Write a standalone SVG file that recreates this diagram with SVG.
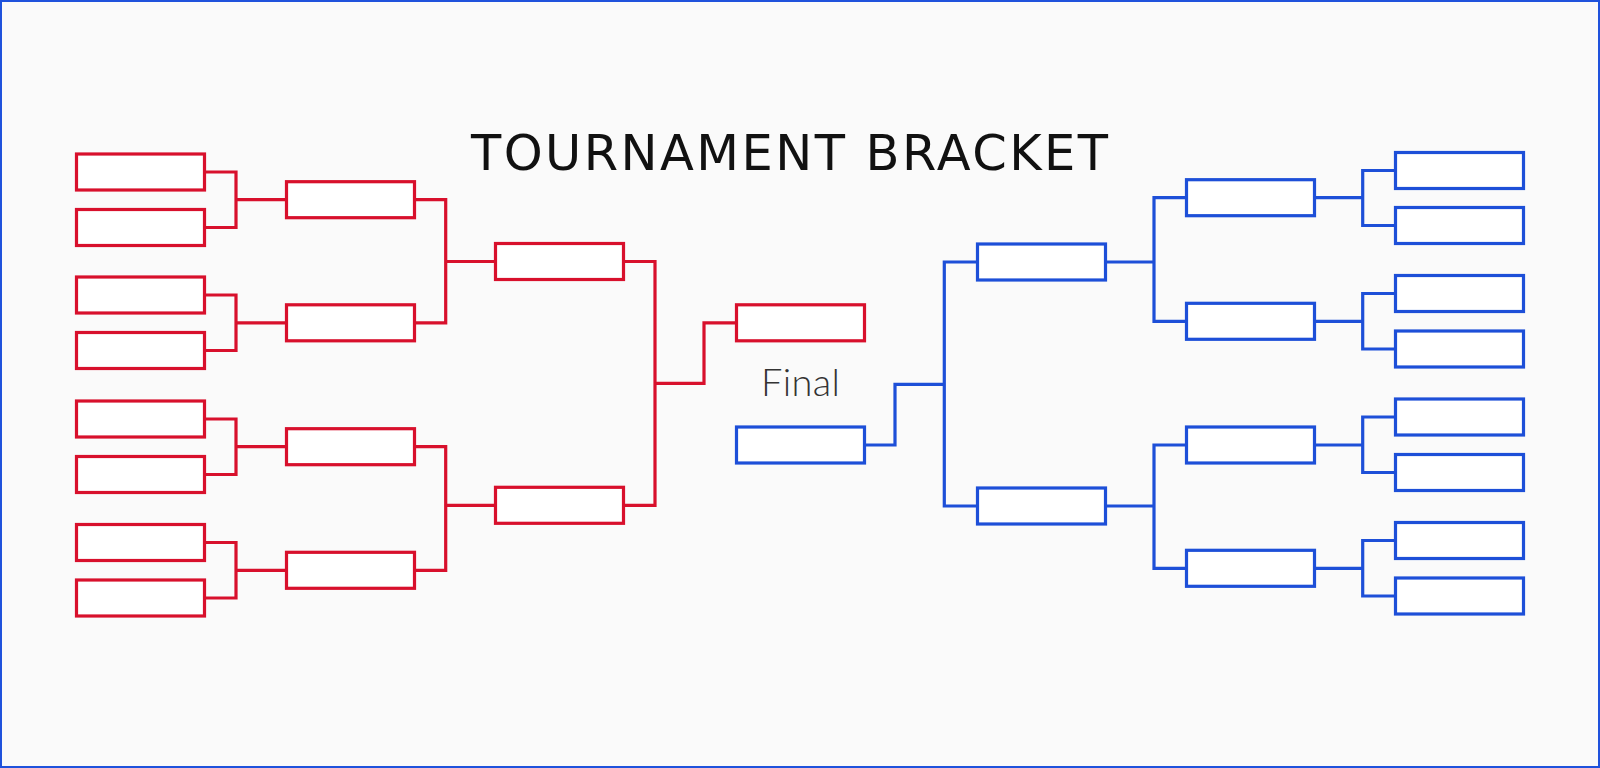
<svg xmlns="http://www.w3.org/2000/svg" width="1600" height="768" viewBox="0 0 1600 768">
  <style>
    .r { fill: #ffffff; stroke: #d8102c; stroke-width: 3.2; }
    .b { fill: #ffffff; stroke: #1d4fd8; stroke-width: 3.2; }
    .cr { fill: none; stroke: #d8102c; stroke-width: 3.2; stroke-linejoin: miter; }
    .cb { fill: none; stroke: #1d4fd8; stroke-width: 3.2; stroke-linejoin: miter; }
    .title { font-family: "DejaVu Sans", "Noto Sans", "Liberation Sans", sans-serif; font-size: 49.5px; fill: #111111; }
    .final { font-family: Lato, "Noto Sans", "Liberation Sans", sans-serif; font-weight: 300; font-size: 38px; fill: #333333; }
  </style>
  <rect x="1" y="1" width="1598" height="766" fill="#fafafa" stroke="#1f52dc" stroke-width="2"/>
  <text class="title" x="471" y="170" textLength="637">TOURNAMENT BRACKET</text>
  <text class="final" x="761" y="396" textLength="79">Final</text>

  <g id="connectors">
    <!-- red round 1 -> round 2 -->
    <path class="cr" d="M204.5 172 H236 V227.5 H204.5 M236 199.7 H286.5"/>
    <path class="cr" d="M204.5 295 H236 V350.5 H204.5 M236 322.8 H286.5"/>
    <path class="cr" d="M204.5 419 H236 V474.5 H204.5 M236 446.7 H286.5"/>
    <path class="cr" d="M204.5 542.5 H236 V598 H204.5 M236 570.3 H286.5"/>
    <!-- red round 2 -> semi -->
    <path class="cr" d="M414.5 199.7 H445.7 V322.8 H414.5 M445.7 261.5 H495.5"/>
    <path class="cr" d="M414.5 446.7 H445.7 V570.3 H414.5 M445.7 505.3 H495.5"/>
    <!-- red semi -> final -->
    <path class="cr" d="M623.5 261.5 H655 V505.3 H623.5 M655 383.3 H704 V322.8 H736.5"/>
    <!-- blue final -> semi -->
    <path class="cb" d="M864.5 445 H895 V384.3 H944.3 M977.5 262 H944.3 V506 H977.5"/>
    <!-- blue semi -> round 2 -->
    <path class="cb" d="M1105.5 262 H1154 M1186.5 197.7 H1154 V321.3 H1186.5"/>
    <path class="cb" d="M1105.5 506 H1154 M1186.5 445 H1154 V568.3 H1186.5"/>
    <!-- blue round 2 -> round 1 -->
    <path class="cb" d="M1314.5 197.7 H1362.7 M1395.5 170.5 H1362.7 V225.5 H1395.5"/>
    <path class="cb" d="M1314.5 321.3 H1362.7 M1395.5 293.5 H1362.7 V349 H1395.5"/>
    <path class="cb" d="M1314.5 445 H1362.7 M1395.5 417 H1362.7 V472.5 H1395.5"/>
    <path class="cb" d="M1314.5 568.3 H1362.7 M1395.5 540.5 H1362.7 V596 H1395.5"/>
  </g>

  <!-- red round 1 -->
  <g id="red-r1-1"><rect class="r" x="76.5" y="154" width="128" height="36"/></g>
  <g id="red-r1-2"><rect class="r" x="76.5" y="209.5" width="128" height="36"/></g>
  <g id="red-r1-3"><rect class="r" x="76.5" y="277" width="128" height="36"/></g>
  <g id="red-r1-4"><rect class="r" x="76.5" y="332.5" width="128" height="36"/></g>
  <g id="red-r1-5"><rect class="r" x="76.5" y="401" width="128" height="36"/></g>
  <g id="red-r1-6"><rect class="r" x="76.5" y="456.5" width="128" height="36"/></g>
  <g id="red-r1-7"><rect class="r" x="76.5" y="524.5" width="128" height="36"/></g>
  <g id="red-r1-8"><rect class="r" x="76.5" y="580" width="128" height="36"/></g>
  <!-- red round 2 -->
  <g id="red-r2-1"><rect class="r" x="286.5" y="181.7" width="128" height="36"/></g>
  <g id="red-r2-2"><rect class="r" x="286.5" y="304.8" width="128" height="36"/></g>
  <g id="red-r2-3"><rect class="r" x="286.5" y="428.7" width="128" height="36"/></g>
  <g id="red-r2-4"><rect class="r" x="286.5" y="552.3" width="128" height="36"/></g>
  <!-- red semi -->
  <g id="red-semi-1"><rect class="r" x="495.5" y="243.5" width="128" height="36"/></g>
  <g id="red-semi-2"><rect class="r" x="495.5" y="487.3" width="128" height="36"/></g>
  <!-- finalists -->
  <g id="red-final"><rect class="r" x="736.5" y="304.8" width="128" height="36"/></g>
  <g id="blue-final"><rect class="b" x="736.5" y="427" width="128" height="36"/></g>
  <!-- blue semi -->
  <g id="blue-semi-1"><rect class="b" x="977.5" y="244" width="128" height="36"/></g>
  <g id="blue-semi-2"><rect class="b" x="977.5" y="488" width="128" height="36"/></g>
  <!-- blue round 2 -->
  <g id="blue-r2-1"><rect class="b" x="1186.5" y="179.7" width="128" height="36"/></g>
  <g id="blue-r2-2"><rect class="b" x="1186.5" y="303.3" width="128" height="36"/></g>
  <g id="blue-r2-3"><rect class="b" x="1186.5" y="427" width="128" height="36"/></g>
  <g id="blue-r2-4"><rect class="b" x="1186.5" y="550.3" width="128" height="36"/></g>
  <!-- blue round 1 -->
  <g id="blue-r1-1"><rect class="b" x="1395.5" y="152.5" width="128" height="36"/></g>
  <g id="blue-r1-2"><rect class="b" x="1395.5" y="207.5" width="128" height="36"/></g>
  <g id="blue-r1-3"><rect class="b" x="1395.5" y="275.5" width="128" height="36"/></g>
  <g id="blue-r1-4"><rect class="b" x="1395.5" y="331" width="128" height="36"/></g>
  <g id="blue-r1-5"><rect class="b" x="1395.5" y="399" width="128" height="36"/></g>
  <g id="blue-r1-6"><rect class="b" x="1395.5" y="454.5" width="128" height="36"/></g>
  <g id="blue-r1-7"><rect class="b" x="1395.5" y="522.5" width="128" height="36"/></g>
  <g id="blue-r1-8"><rect class="b" x="1395.5" y="578" width="128" height="36"/></g>
</svg>
